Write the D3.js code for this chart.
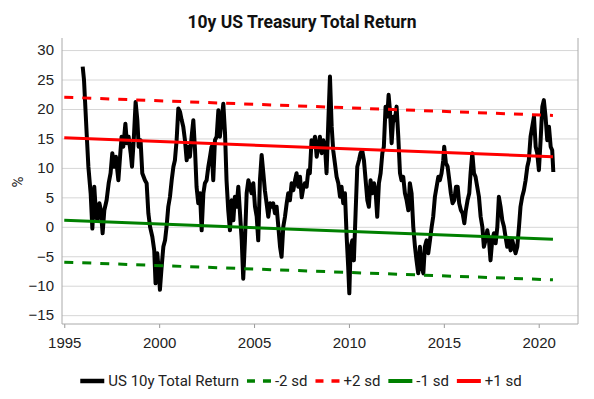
<!DOCTYPE html>
<html>
<head>
<meta charset="utf-8">
<script src="https://cdn.jsdelivr.net/npm/d3@7"></script>
<style>
  body { margin: 0; background: #fff; }
  svg { font-family: Roboto, 'Noto Sans', sans-serif; }
</style>
</head>
<body>
<div id="chart"><svg></svg></div>
<script>
(function() {

  const title = '10y US Treasury Total Return';

  // [year, % total return]
  const tr10y = [
    [1995.97, 27.2], [1996.04, 24.9], [1996.18, 15.8], [1996.27, 10.2], [1996.39, 5.7], [1996.48, -0.3],
    [1996.58, 6.8], [1996.67, 2.3], [1996.74, 1.1], [1996.85, 4.0], [1996.93, 2.8], [1997.02, -1.1],
    [1997.11, 2.8], [1997.23, 4.5], [1997.34, 7.4], [1997.44, 9.1], [1997.53, 12.5], [1997.64, 10.2],
    [1997.72, 11.9], [1997.85, 7.9], [1997.94, 11.9], [1998.02, 15.3], [1998.11, 13.6], [1998.22, 17.5],
    [1998.30, 14.2], [1998.39, 15.3], [1998.50, 12.5], [1998.57, 10.2], [1998.67, 15.3], [1998.76, 21.2],
    [1998.85, 18.1], [1998.92, 13.6], [1999.02, 14.7], [1999.11, 9.1], [1999.25, 7.9], [1999.34, 7.4],
    [1999.43, 2.3], [1999.52, 0.0], [1999.64, -1.7], [1999.74, -4.0], [1999.81, -9.6], [1999.90, -4.5],
    [1999.99, -7.9], [2000.04, -10.7], [2000.13, -6.8], [2000.22, -3.4], [2000.31, -2.3], [2000.39, 0.0],
    [2000.48, 3.4], [2000.57, 5.1], [2000.66, 7.9], [2000.75, 10.2], [2000.83, 11.3], [2000.92, 14.7],
    [2001.01, 20.1], [2001.10, 19.5], [2001.18, 18.2], [2001.27, 17.0], [2001.36, 14.7], [2001.45, 11.3],
    [2001.54, 13.6], [2001.62, 11.9], [2001.71, 15.3], [2001.80, 18.1], [2001.89, 13.0], [2001.97, 6.8],
    [2002.06, 4.0], [2002.15, 5.7], [2002.24, -0.6], [2002.33, 5.7], [2002.41, 7.4], [2002.50, 7.9],
    [2002.59, 10.2], [2002.68, 11.9], [2002.76, 13.6], [2002.85, 7.9], [2002.94, 14.7], [2003.03, 15.3],
    [2003.12, 19.8], [2003.20, 15.3], [2003.29, 18.1], [2003.38, 20.9], [2003.47, 15.9], [2003.55, 7.9],
    [2003.64, 2.8], [2003.73, -0.6], [2003.82, 4.5], [2003.91, 1.1], [2003.99, 5.1], [2004.08, 3.4],
    [2004.17, 6.8], [2004.26, 2.3], [2004.35, -2.3], [2004.43, -8.8], [2004.52, -2.3], [2004.61, 5.7],
    [2004.70, 7.9], [2004.78, 6.8], [2004.87, 5.7], [2004.96, 7.4], [2005.05, 3.4], [2005.14, 1.7],
    [2005.22, -2.3], [2005.31, 7.9], [2005.40, 12.2], [2005.49, 9.1], [2005.57, 6.2], [2005.66, 4.0],
    [2005.75, 1.7], [2005.84, 4.0], [2005.93, 3.4], [2006.01, 4.0], [2006.10, 2.3], [2006.19, 3.4],
    [2006.28, 0.0], [2006.37, -3.4], [2006.45, -5.1], [2006.54, 0.0], [2006.63, 1.7], [2006.72, 4.0],
    [2006.80, 5.7], [2006.89, 4.5], [2006.98, 7.4], [2007.07, 6.2], [2007.16, 7.9], [2007.24, 9.1],
    [2007.33, 6.8], [2007.42, 8.5], [2007.51, 5.0], [2007.59, 6.5], [2007.68, 7.4], [2007.77, 6.8],
    [2007.86, 9.6], [2007.94, 9.1], [2008.03, 14.7], [2008.12, 13.6], [2008.21, 15.3], [2008.30, 11.9],
    [2008.38, 13.6], [2008.47, 15.3], [2008.56, 12.5], [2008.65, 14.7], [2008.74, 13.6], [2008.82, 9.1],
    [2008.91, 17.5], [2009.00, 25.5], [2009.09, 17.0], [2009.17, 13.0], [2009.26, 10.8], [2009.35, 8.5],
    [2009.44, 7.4], [2009.53, 5.1], [2009.61, 6.8], [2009.70, 4.0], [2009.79, 5.7], [2009.88, -1.7],
    [2009.96, -6.8], [2010.02, -11.3], [2010.09, -3.4], [2010.18, -2.3], [2010.26, -5.7], [2010.35, 2.3],
    [2010.44, 10.2], [2010.53, 11.3], [2010.61, 12.5], [2010.70, 13.0], [2010.79, 11.3], [2010.88, 7.9],
    [2010.97, 4.5], [2011.05, 3.4], [2011.14, 7.9], [2011.23, 5.7], [2011.32, 7.4], [2011.40, 6.2],
    [2011.49, 1.7], [2011.58, 7.4], [2011.67, 9.1], [2011.76, 12.5], [2011.84, 13.6], [2011.93, 20.4],
    [2012.02, 18.7], [2012.09, 22.4], [2012.16, 19.8], [2012.25, 14.2], [2012.34, 18.7], [2012.42, 18.1],
    [2012.51, 20.4], [2012.60, 15.3], [2012.69, 9.1], [2012.77, 7.9], [2012.86, 8.5], [2012.95, 5.7],
    [2013.04, 4.5], [2013.13, 2.8], [2013.21, 7.4], [2013.30, 5.7], [2013.39, 0.0], [2013.48, -3.4],
    [2013.56, -5.7], [2013.65, -7.9], [2013.74, -3.4], [2013.83, -6.8], [2013.92, -7.9], [2014.00, -3.4],
    [2014.09, -2.3], [2014.18, -4.5], [2014.27, -2.3], [2014.36, 0.0], [2014.44, 1.7], [2014.53, 5.1],
    [2014.62, 6.8], [2014.71, 8.5], [2014.79, 7.9], [2014.88, 9.1], [2014.97, 11.3], [2015.02, 13.6],
    [2015.11, 10.8], [2015.20, 10.2], [2015.29, 7.9], [2015.37, 5.7], [2015.46, 4.0], [2015.55, 4.5],
    [2015.64, 6.8], [2015.73, 6.8], [2015.81, 4.0], [2015.90, 2.8], [2015.99, 2.3], [2016.08, 0.6],
    [2016.16, 2.8], [2016.25, 4.5], [2016.34, 5.7], [2016.41, 9.1], [2016.50, 12.5], [2016.59, 9.1],
    [2016.67, 8.5], [2016.76, 6.8], [2016.85, 5.1], [2016.94, 1.7], [2017.03, 0.0], [2017.11, -3.4],
    [2017.20, -2.3], [2017.29, -0.6], [2017.38, -2.3], [2017.46, -5.7], [2017.55, -2.3], [2017.64, -1.1],
    [2017.73, -2.8], [2017.82, 0.0], [2017.90, 5.1], [2017.99, 3.4], [2018.08, 1.1], [2018.17, 0.0],
    [2018.25, -1.7], [2018.34, -3.4], [2018.43, -2.3], [2018.52, -4.0], [2018.61, -2.3], [2018.69, -3.4],
    [2018.78, -4.5], [2018.87, -3.4], [2018.96, 0.0], [2019.04, 3.4], [2019.13, 5.1], [2019.22, 6.2],
    [2019.31, 7.9], [2019.40, 10.2], [2019.48, 11.3], [2019.57, 15.3], [2019.66, 17.0], [2019.75, 18.7],
    [2019.84, 13.6], [2019.92, 12.5], [2020.01, 9.6], [2020.10, 14.7], [2020.19, 20.4], [2020.27, 21.5],
    [2020.36, 18.7], [2020.45, 14.7], [2020.54, 17.0], [2020.63, 13.6], [2020.71, 13.0], [2020.77, 9.3]
  ];

  // straight sd bands, value at bandYears[0] and bandYears[1]
  const bandYears = [1995, 2020.75];
  const minus2sd = [-6, -9];
  const plus2sd = [22, 18.9];
  const minus1sd = [1.1, -2.1];
  const plus1sd = [15.1, 11.9];

  const yTicks = [-15, -10, -5, 0, 5, 10, 15, 20, 25, 30];
  const xTicks = [1995, 2000, 2005, 2010, 2015, 2020];

  const legendItems = [
    { name: 'US 10y Total Return', color: '#000000', dash: null, width: 4.5 },
    { name: '-2 sd', color: '#008000', dash: '8,8', width: 3.5 },
    { name: '+2 sd', color: '#ff0000', dash: '8,8', width: 3.5 },
    { name: '-1 sd', color: '#008000', dash: null, width: 4 },
    { name: '+1 sd', color: '#ff0000', dash: null, width: 4 }
  ];

  const width = 594;
  const height = 399;
  const margin = { left: 62, right: 16, top: 38, bottom: 75 };
  const innerWidth = width - margin.left - margin.right;
  const innerHeight = height - margin.top - margin.bottom;

  const svg = d3.select('#chart svg')
    .attr('width', width)
    .attr('height', height);

  svg.append('text')
    .attr('x', 302)
    .attr('y', 28)
    .attr('text-anchor', 'middle')
    .style('font-size', '17.5px')
    .style('font-weight', 'bold')
    .style('fill', '#111')
    .text(title);

  const x = d3.scaleLinear().domain([1994.88, 2022.07]).range([0, innerWidth]);
  const y = d3.scaleLinear().domain([-16.5, 32.05]).range([innerHeight, 0]);

  const g = svg.append('g')
    .attr('transform', 'translate(' + margin.left + ',' + margin.top + ')');

  // gridlines + y labels
  const yAxis = g.append('g')
    .attr('class', 'y axis')
    .call(d3.axisLeft(y).tickValues(yTicks).tickSize(-innerWidth).tickPadding(8));
  yAxis.select('.domain').remove();
  yAxis.selectAll('.tick line').style('stroke', '#d6d6d6');
  yAxis.selectAll('text').style('font-size', '15px').style('fill', '#222');

  const xAxis = g.append('g')
    .attr('class', 'x axis')
    .attr('transform', 'translate(0,' + innerHeight + ')')
    .call(d3.axisBottom(x).tickValues(xTicks).tickFormat(d3.format('d')).tickSize(4).tickPadding(9));
  xAxis.select('.domain').remove();
  xAxis.selectAll('.tick line').style('stroke', '#999');
  xAxis.selectAll('text').style('font-size', '15px').style('fill', '#222');

  // frame
  g.append('path')
    .attr('d', 'M0,0V' + innerHeight + 'H' + innerWidth + 'V0')
    .style('fill', 'none')
    .style('stroke', '#aaa')
    .style('stroke-width', 1);

  svg.append('text')
    .attr('transform', 'translate(23,182) rotate(-90)')
    .attr('text-anchor', 'middle')
    .style('font-size', '15px')
    .style('fill', '#222')
    .text('%');

  const line = d3.line()
    .x(function(d) { return x(d[0]); })
    .y(function(d) { return y(d[1]); });

  const bands = [
    { vals: minus2sd, color: '#008000', dash: '9,9' },
    { vals: plus2sd, color: '#ff0000', dash: '9,9' },
    { vals: minus1sd, color: '#008000', dash: null },
    { vals: plus1sd, color: '#ff0000', dash: null }
  ];

  g.append('path')
    .datum(tr10y)
    .attr('d', line)
    .style('fill', 'none')
    .style('stroke', '#000')
    .style('stroke-width', 4)
    .style('stroke-linejoin', 'round');

  g.selectAll('.band')
    .data(bands)
    .enter()
    .append('path')
    .attr('class', 'band')
    .attr('d', function(d) {
      return line([[bandYears[0], d.vals[0]], [bandYears[1], d.vals[1]]]);
    })
    .style('fill', 'none')
    .style('stroke', function(d) { return d.color; })
    .style('stroke-width', 3)
    .style('stroke-dasharray', function(d) { return d.dash; });

  // legend
  const legend = svg.append('g').attr('class', 'legend');
  let cursor = 0;
  legendItems.forEach(function(d) {
    const item = legend.append('g').attr('transform', 'translate(' + cursor + ',0)');
    item.append('line')
      .attr('x1', 0).attr('x2', 24)
      .attr('y1', 0).attr('y2', 0)
      .style('stroke', d.color)
      .style('stroke-width', d.width)
      .style('stroke-dasharray', d.dash);
    const t = item.append('text')
      .attr('x', 28)
      .attr('y', 5)
      .style('font-size', '15px')
      .style('fill', '#222')
      .text(d.name);
    cursor += 28 + t.node().getComputedTextLength() + 8;
  });
  const legendWidth = cursor - 8;
  legend.attr('transform', 'translate(' + (301 - legendWidth / 2) + ',381)');

})();
</script>
</body>
</html>
